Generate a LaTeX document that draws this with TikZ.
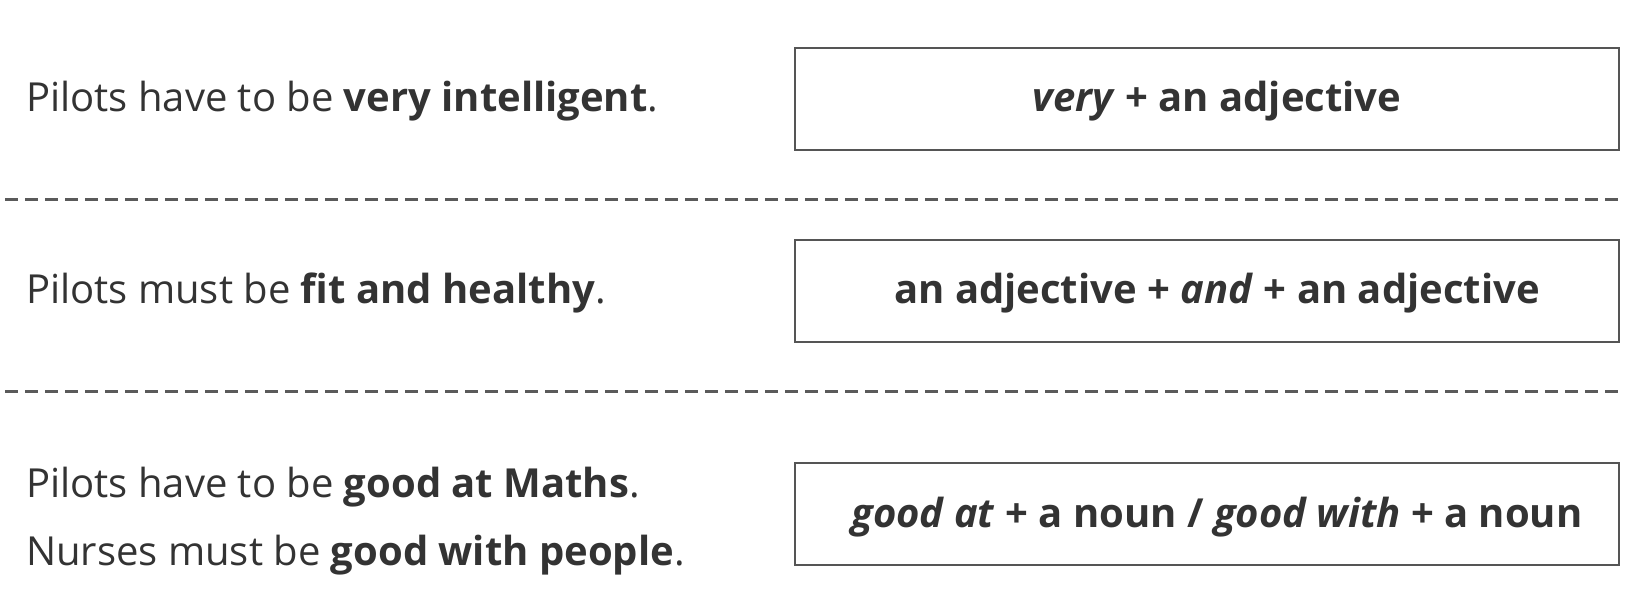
\documentclass[tikz,border=0pt]{standalone}
\usepackage{fontspec}
\setmainfont{Open Sans}
\definecolor{ink}{HTML}{333333}
\definecolor{frame}{HTML}{555555}
\definecolor{rulecol}{HTML}{5A5A5A}
\begin{document}
\begin{tikzpicture}[x=1pt,y=-1pt,
  lefttxt/.style={anchor=base west, inner sep=0pt, text=ink, font=\fontsize{40}{48}\selectfont},
  boxtxt/.style={anchor=base, inner sep=0pt, text=ink, font=\fontsize{40}{48}\selectfont\bfseries},
  gbox/.style={draw=frame, line width=2pt, minimum width=824pt, minimum height=102pt, inner sep=0pt},
  sepline/.style={draw=rulecol, line width=3pt, dash pattern=on 13pt off 7pt}]
\useasboundingbox (0,0) rectangle (1633,612);
% separators
\coordinate (d1a) at (5,200); \coordinate (d1b) at (1619,200);
\coordinate (d2a) at (5,391); \coordinate (d2b) at (1619,391);
\draw[sepline] (d1a) -- (d1b);
\draw[sepline] (d2a) -- (d2b);
% boxes
\node[gbox] (b1) at (1207,99) {};
\node[gbox] (b2) at (1207,291) {};
\node[gbox] (b3) at (1207,514) {};
\node[boxtxt] (t1) at (1217,112) {\textit{very} + an adjective};
\node[boxtxt] (t2) at (1217,304) {an adjective + \textit{and} + an adjective};
\node[boxtxt] (t3) at (1217,527) {\textit{good at} + a noun / \textit{good with} + a noun};
% left sentences
\node[lefttxt] (s1) at (26,112) {Pilots have to be \textbf{very intelligent}.};
\node[lefttxt] (s2) at (26,304) {Pilots must be \textbf{fit and healthy}.};
\node[lefttxt] (s3) at (26,497) {Pilots have to be \textbf{good at Maths}.};
\node[lefttxt] (s4) at (26,565) {Nurses must be \textbf{good with people}.};
\end{tikzpicture}
\end{document}
